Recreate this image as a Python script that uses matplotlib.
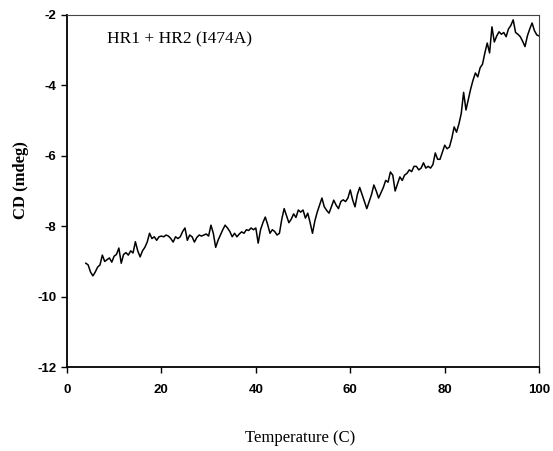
import matplotlib.pyplot as plt
import numpy as np

plt.rcParams['axes.unicode_minus'] = False

# temperature (C), 0.5 degree steps
temps = np.arange(4.0, 100.01, 0.5)

# CD signal (mdeg)
cd = [
    -9.05, -9.10, -9.30, -9.41, -9.30, -9.16, -9.10, -8.82, -9.00, -8.95,
    -8.90, -9.02, -8.85, -8.80, -8.62, -9.05, -8.80, -8.75, -8.82, -8.70,
    -8.76, -8.44, -8.70, -8.87, -8.70, -8.60, -8.45, -8.20, -8.35, -8.30,
    -8.40, -8.30, -8.28, -8.30, -8.25, -8.28, -8.35, -8.45, -8.30, -8.35,
    -8.30, -8.15, -8.05, -8.40, -8.25, -8.30, -8.45, -8.32, -8.25, -8.28,
    -8.25, -8.22, -8.28, -7.97, -8.20, -8.60, -8.40, -8.25, -8.10, -7.97,
    -8.05, -8.15, -8.30, -8.20, -8.30, -8.22, -8.16, -8.20, -8.10, -8.12,
    -8.05, -8.10, -8.05, -8.48, -8.10, -7.90, -7.74, -7.95, -8.20, -8.10,
    -8.15, -8.25, -8.20, -7.80, -7.50, -7.70, -7.90, -7.80, -7.65, -7.75,
    -7.54, -7.60, -7.54, -7.77, -7.63, -7.90, -8.20, -7.85, -7.60, -7.40,
    -7.20, -7.45, -7.55, -7.63, -7.45, -7.26, -7.40, -7.50, -7.30, -7.25,
    -7.30, -7.20, -6.97, -7.25, -7.45, -7.10, -6.90, -7.10, -7.30, -7.50,
    -7.30, -7.10, -6.83, -7.00, -7.20, -7.05, -6.90, -6.70, -6.75, -6.46,
    -6.55, -7.00, -6.80, -6.60, -6.70, -6.55, -6.50, -6.40, -6.45, -6.30,
    -6.30, -6.40, -6.35, -6.20, -6.35, -6.30, -6.35, -6.25, -5.92, -6.10,
    -6.10, -5.90, -5.70, -5.80, -5.75, -5.50, -5.18, -5.33, -5.10, -4.80,
    -4.20, -4.70, -4.40, -4.10, -3.85, -3.65, -3.76, -3.50, -3.40, -3.08,
    -2.80, -3.08, -2.34, -2.77, -2.60, -2.48, -2.55, -2.50, -2.62, -2.40,
    -2.30, -2.14, -2.50, -2.55, -2.62, -2.75, -2.90, -2.60, -2.40, -2.23,
    -2.45, -2.57, -2.60,
]

xticks = [0, 20, 40, 60, 80, 100]
yticks = [-12, -10, -8, -6, -4, -2]

fig = plt.figure(figsize=(5.53, 4.51), dpi=100)
ax = fig.add_axes([0.121, 0.186, 0.854, 0.781])
ax.plot(temps, cd, color='black', lw=1.1)

ax.set_xlim(0, 100)
ax.set_ylim(-12, -2)
ax.set_xticks(xticks)
ax.set_yticks(yticks)
ax.tick_params(direction='out', length=4, width=1, labelsize=9.5)
for lab in ax.get_xticklabels() + ax.get_yticklabels():
    lab.set_fontfamily('Liberation Sans')
    lab.set_fontweight('bold')
ax.tick_params(axis='x', pad=8)

ax.spines['left'].set_linewidth(1.3)
ax.spines['bottom'].set_linewidth(1.3)
ax.spines['top'].set_linewidth(0.8)
ax.spines['right'].set_linewidth(0.8)
ax.spines['top'].set_color('#444444')
ax.spines['right'].set_color('#444444')

ax.text(0.085, 0.93, 'HR1 + HR2 (I474A)', transform=ax.transAxes,
        fontsize=12.5, family='Liberation Serif', va='center', ha='left')

fig.text(0.543, 0.028, 'Temperature (C)', fontsize=12, family='Liberation Serif',
         ha='center', va='center')
fig.text(0.038, 0.60, 'CD (mdeg)', fontsize=12, family='Liberation Serif',
         fontweight='bold', rotation=90, ha='center', va='center')

fig.savefig('out.png', dpi=100)
